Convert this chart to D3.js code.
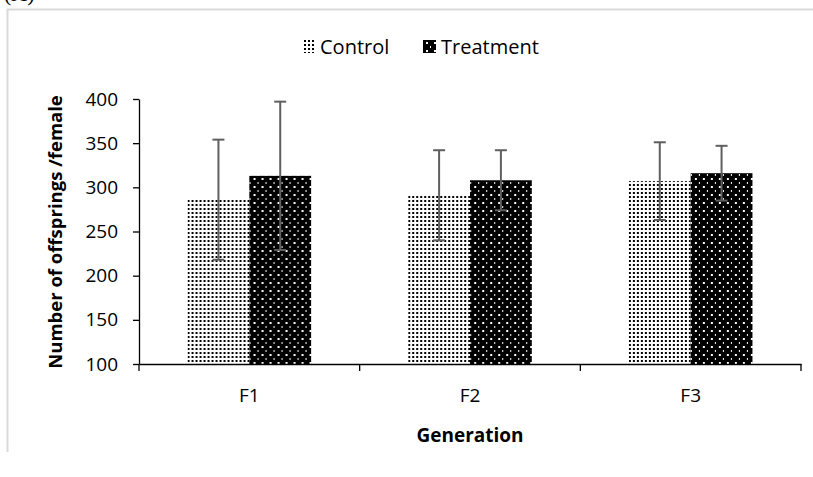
<!DOCTYPE html>
<html><head><meta charset="utf-8">
<script src="https://cdn.jsdelivr.net/npm/d3@7"></script>
<style>body{margin:0;background:#fff}svg{display:block}</style>
</head><body><div id="chart"></div>
<script>
const categories = ["F1", "F2", "F3"];
const seriesNames = ["Control", "Treatment"];
const controlValues = [286, 291, 307];
const controlErrors = [68, 51, 44];
const treatmentValues = [313, 308, 316];
const treatmentErrors = [84, 34, 31];
const yTicks = [100, 150, 200, 250, 300, 350, 400];

const W = 813, H = 477;
const svg = d3.select("#chart").append("svg").attr("width", W).attr("height", H);
const font = "'Open Sans', sans-serif";

const defs = svg.append("defs");
const pc = defs.append("pattern").attr("id", "pCtrl").attr("patternUnits", "userSpaceOnUse")
  .attr("width", 4).attr("height", 4);
pc.append("rect").attr("width", 4).attr("height", 4).attr("fill", "#fff");
pc.append("rect").attr("x", 0).attr("y", 0).attr("width", 2).attr("height", 2).attr("fill", "#000");
const pt = defs.append("pattern").attr("id", "pTreat").attr("patternUnits", "userSpaceOnUse")
  .attr("width", 8).attr("height", 8);
pt.append("rect").attr("width", 8).attr("height", 8).attr("fill", "#000");
pt.append("rect").attr("x", 2).attr("y", 2).attr("width", 2).attr("height", 2).attr("fill", "#fff");
pt.append("rect").attr("x", 6).attr("y", 6).attr("width", 1).attr("height", 2).attr("fill", "#fff");
const fills = ["url(#pCtrl)", "url(#pTreat)"];

// frame
svg.append("path").attr("d", "M7.5,452 V9.5 H813").attr("fill", "none").attr("stroke", "#d9d9d9").attr("stroke-width", 2);
svg.append("text").attr("x", 4).attr("y", 1).attr("font-family", "'Liberation Serif', serif")
  .attr("font-size", 22).attr("fill", "#000").text("(A)");

const m = {left: 139, right: 801, top: 99, bottom: 364};
const x = d3.scaleBand().domain(categories).range([m.left, m.right]).paddingInner(0.44).paddingOuter(0.22);
const y = d3.scaleLinear().domain([100, 400]).range([m.bottom, m.top]);
const xs = d3.scaleBand().domain(seriesNames).range([0, x.bandwidth()]);

const data = categories.map((c, i) => ({c, vals: [
  {s: 0, v: controlValues[i], e: controlErrors[i]},
  {s: 1, v: treatmentValues[i], e: treatmentErrors[i]}]}));

const g = svg.selectAll("g.cat").data(data).enter().append("g").attr("transform", d => `translate(${x(d.c)},0)`);
g.selectAll("rect").data(d => d.vals).enter().append("rect")
  .attr("x", d => xs(seriesNames[d.s])).attr("width", xs.bandwidth())
  .attr("y", d => y(d.v)).attr("height", d => y(100) - y(d.v))
  .attr("fill", d => fills[d.s]);
const eb = g.selectAll("g.err").data(d => d.vals).enter().append("g")
  .attr("stroke", "#5f5f5f").attr("stroke-width", 2);
const cx = d => xs(seriesNames[d.s]) + xs.bandwidth() / 2;
eb.append("line").attr("x1", cx).attr("x2", cx)
  .attr("y1", d => y(d.v + d.e)).attr("y2", d => y(d.v - d.e));
eb.append("line").attr("x1", d => cx(d) - 6).attr("x2", d => cx(d) + 6)
  .attr("y1", d => y(d.v + d.e)).attr("y2", d => y(d.v + d.e));
eb.append("line").attr("x1", d => cx(d) - 6).attr("x2", d => cx(d) + 6)
  .attr("y1", d => y(d.v - d.e)).attr("y2", d => y(d.v - d.e));

// y axis
const ya = svg.append("g").attr("transform", `translate(${m.left},0)`)
  .call(d3.axisLeft(y).tickValues(yTicks).tickSize(6).tickPadding(15).tickSizeOuter(0));
ya.select(".domain").attr("stroke", "#000").attr("stroke-width", 1.3);
ya.selectAll(".tick line").attr("stroke", "#000").attr("stroke-width", 1.3);
ya.selectAll("text").attr("font-family", font).attr("font-size", 19).attr("fill", "#000");

// x axis
const xa = svg.append("g").attr("transform", `translate(0,${m.bottom})`)
  .call(d3.axisBottom(x).tickSize(0).tickPadding(25).tickSizeOuter(0));
xa.select(".domain").attr("stroke", "#000").attr("stroke-width", 1.3);
xa.selectAll("text").attr("font-family", font).attr("font-size", 19).attr("fill", "#000");
const step = (m.right - m.left) / categories.length;
xa.selectAll("line.sep").data([0, 1, 2, 3]).enter().append("line").attr("class", "sep")
  .attr("x1", i => m.left + i * step).attr("x2", i => m.left + i * step)
  .attr("y1", 0).attr("y2", 7).attr("stroke", "#000").attr("stroke-width", 1.3);

svg.append("text").attr("x", 470).attr("y", 442).attr("text-anchor", "middle")
  .attr("font-family", font).attr("font-weight", "bold").attr("font-size", 19).text("Generation");
svg.append("text").attr("transform", "translate(62,232) rotate(-90)").attr("text-anchor", "middle")
  .attr("font-family", font).attr("font-weight", "bold").attr("font-size", 18.5).text("Number of offsprings /female");

// legend
const leg = svg.append("g").attr("font-family", font).attr("font-size", 20);
const legX = [302, 423];
seriesNames.forEach((s, i) => {
  leg.append("rect").attr("x", legX[i]).attr("y", 40).attr("width", 13).attr("height", 13)
    .attr("fill", fills[i]);
  leg.append("text").attr("x", legX[i] + 18).attr("y", 54).text(s);
});
</script></body></html>
